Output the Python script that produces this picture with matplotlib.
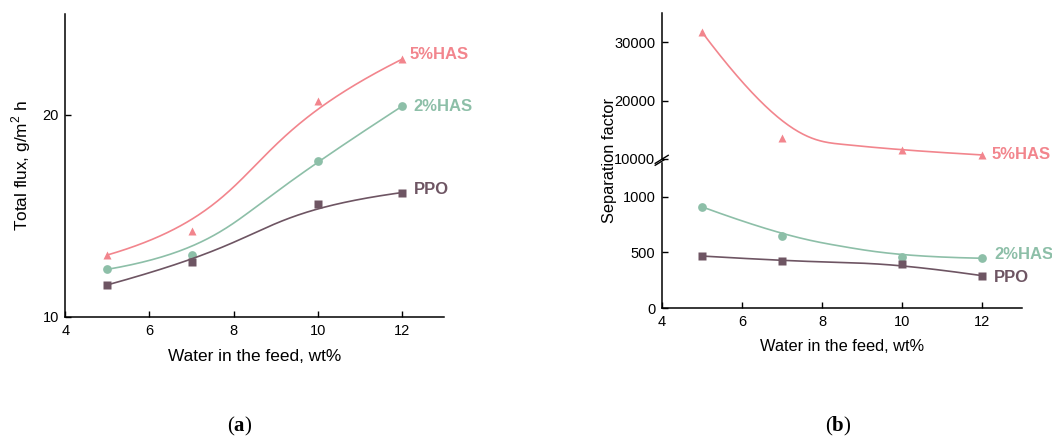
import matplotlib
matplotlib.use('Agg')
import matplotlib.pyplot as plt
import numpy as np

plt.rcParams['font.family'] = ['Liberation Sans', 'DejaVu Sans']
plt.rcParams['mathtext.fontset'] = 'custom'
plt.rcParams['mathtext.rm'] = 'Liberation Sans'
plt.rcParams['mathtext.bf'] = 'Liberation Serif:bold'

water = [5, 7, 10, 12]

# (a) total flux, g/m2 h
flux_has5 = [13.07, 14.28, 20.67, 22.76]
flux_has2 = [12.36, 13.07, 17.73, 20.43]
flux_ppo = [11.59, 12.74, 15.59, 16.16]

# (b) separation factor
sep_has5 = [31820, 13550, 11490, 10690]
sep_has2 = [909, 647, 462, 448]
sep_ppo = [468, 426, 394, 292]

c_has5 = '#f2858d'
c_has2 = '#8dbfa8'
c_ppo = '#6e5563'

series = [
    ('5%HAS', '^', c_has5),
    ('2%HAS', 'o', c_has2),
    ('PPO', 's', c_ppo),
]


def bspline(ctrl, k=3, n=200):
    # clamped uniform B-spline, Cox-de Boor
    m = len(ctrl)
    knots = np.concatenate([np.zeros(k), np.linspace(0, 1, m - k + 1), np.ones(k)])
    u = np.linspace(0, 1 - 1e-9, n)
    N = np.array([(knots[i] <= u) & (u < knots[i + 1])
                  for i in range(len(knots) - 1)], dtype=float).T
    for d in range(1, k + 1):
        new = np.zeros((n, len(knots) - 1 - d))
        for i in range(len(knots) - 1 - d):
            den1 = knots[i + d] - knots[i]
            den2 = knots[i + d + 1] - knots[i + 1]
            a = (u - knots[i]) / den1 if den1 > 0 else 0 * u
            b = (knots[i + d + 1] - u) / den2 if den2 > 0 else 0 * u
            new[:, i] = a * N[:, i] + b * N[:, i + 1]
        N = new
    return N @ ctrl


def trend(x, y):
    # smooth curve with the measured points as control points
    p = np.column_stack([x, y]).astype(float)
    ctrl = np.vstack([p[0], p[1], 0.5 * (p[1] + p[2]), p[2], p[3]])
    curve = bspline(ctrl)
    return curve[:, 0], curve[:, 1]


def style(ax, left=True, bottom=True):
    for s in ['top', 'right']:
        ax.spines[s].set_visible(False)
    ax.spines['left'].set_visible(left)
    ax.spines['bottom'].set_visible(bottom)
    for s in ['left', 'bottom']:
        ax.spines[s].set_linewidth(1.1)
    ax.tick_params(direction='in', length=4, width=1.0, labelsize=10.5)
    ax.tick_params(axis='x', pad=5)
    ax.tick_params(axis='y', pad=4.5)


def draw(ax, y, name, marker, color, dx, dy):
    cx, cy = trend(water, y)
    ax.plot(cx, cy, color=color, lw=1.2, clip_on=False)
    ax.plot(water, y, marker, color=color, ms=6.3, mec='none', clip_on=False)
    ax.annotate(name, (water[-1], y[-1]), xytext=(dx, dy), textcoords='offset points',
                ha='left', va='center', color=color, fontsize=12, fontweight='bold',
                annotation_clip=False)


fig = plt.figure(figsize=(10.52, 4.37), dpi=100)

# ---- (a)
ax_a = fig.add_axes([0.0621, 0.2746, 0.360, 0.6934])
style(ax_a)
for (name, marker, color), y, off in zip(series, [flux_has5, flux_has2, flux_ppo],
                                         [(5.5, 3.4), (8.5, 0), (8.5, 2.4)]):
    draw(ax_a, y, name, marker, color, *off)
ax_a.set_xlim(4, 13)
ax_a.set_ylim(10, 25)
ax_a.set_xticks([4, 6, 8, 10, 12])
ax_a.set_yticks([10, 20])
ax_a.set_xlabel('Water in the feed, wt%', fontsize=12.4, labelpad=8)
ax_a.set_ylabel('Total flux, g/m$^2$ h', fontsize=12.4, labelpad=7)

# ---- (b), broken y axis
ax_lo = fig.add_axes([0.629, 0.2945, 0.3428, 0.3323])
ax_hi = fig.add_axes([0.629, 0.6362, 0.3428, 0.3334], sharex=ax_lo)
style(ax_lo)
style(ax_hi, bottom=False)
ax_hi.tick_params(axis='x', bottom=False, labelbottom=False)

name, marker, color = series[0]
draw(ax_hi, sep_has5, name, marker, color, 6.5, 0)
name, marker, color = series[1]
draw(ax_lo, sep_has2, name, marker, color, 8.5, 2.8)
name, marker, color = series[2]
draw(ax_lo, sep_ppo, name, marker, color, 8, -1)

ax_lo.set_xlim(4, 13)
ax_lo.set_xticks([4, 6, 8, 10, 12])
ax_lo.set_ylim(0, 1300)
ax_lo.set_yticks([0, 500, 1000])
ax_hi.set_ylim(10000, 35000)
ax_hi.set_yticks([10000, 20000, 30000])
ax_lo.set_xlabel('Water in the feed, wt%', fontsize=11.8, labelpad=7)
fig.text(0.579, 0.632, 'Separation factor', rotation=90, ha='center', va='center',
         fontsize=11.8)

# break marks on the y axis
kw = dict(color='black', lw=1.0, clip_on=False)
ax_lo.plot([-0.018, 0.018], [0.985, 1.04], transform=ax_lo.transAxes, **kw)
ax_hi.plot([-0.018, 0.018], [-0.03, 0.025], transform=ax_hi.transAxes, **kw)

fig.text(0.228, 0.024, r'($\mathbf{a}$)', fontsize=15, family='Liberation Serif',
         ha='center', va='center')
fig.text(0.797, 0.024, r'($\mathbf{b}$)', fontsize=15, family='Liberation Serif',
         ha='center', va='center')

fig.savefig('out.png', dpi=100)
